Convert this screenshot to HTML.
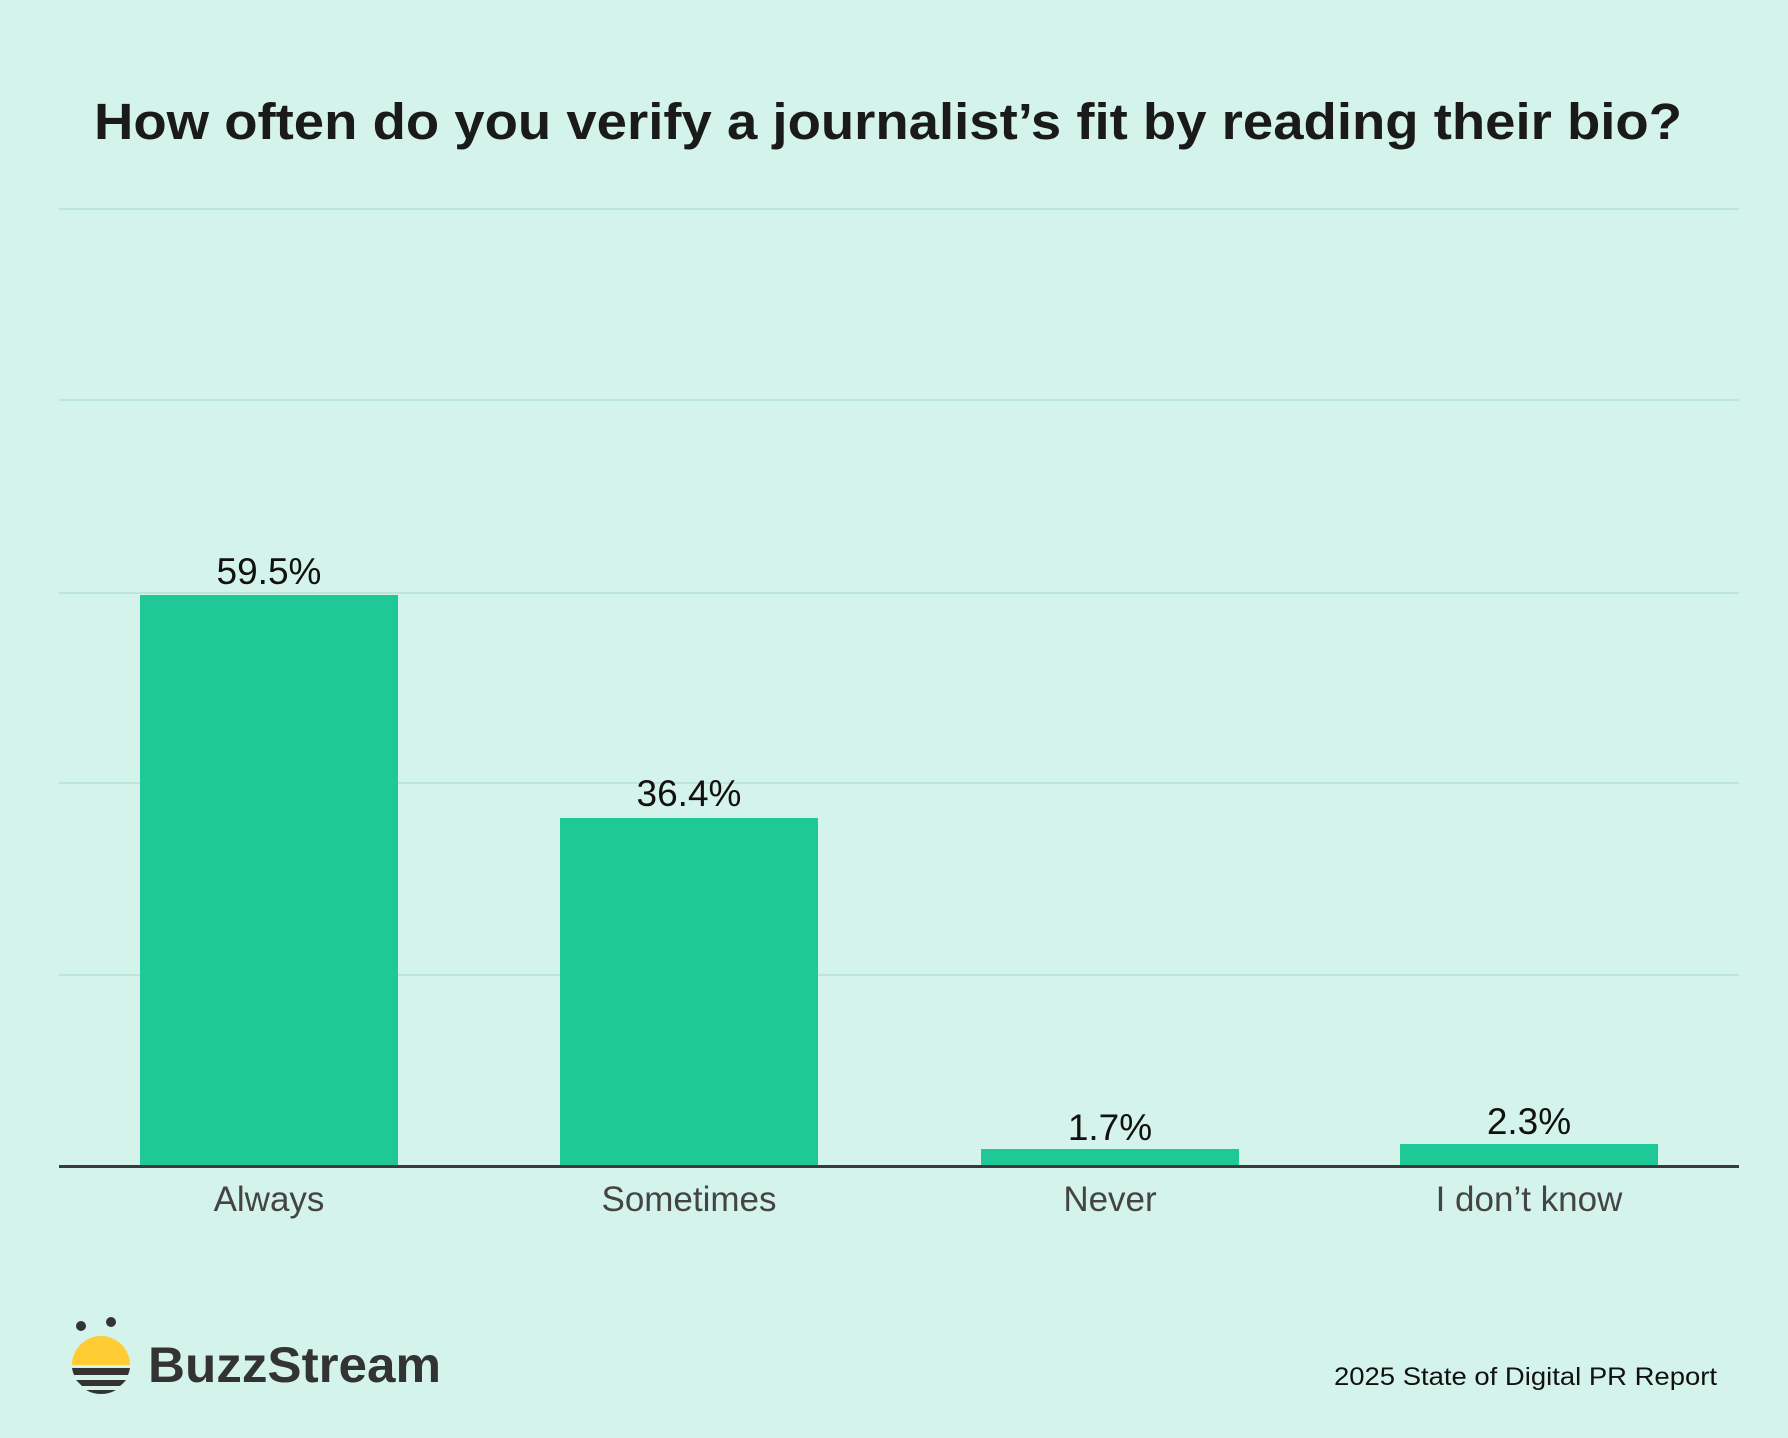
<!DOCTYPE html>
<html><head><meta charset="utf-8"><style>
html,body{margin:0;padding:0;background:#d4f4eb;}
svg{display:block}
</style></head><body>
<svg width="1788" height="1438" viewBox="0 0 1788 1438" xmlns="http://www.w3.org/2000/svg">
<rect width="1788" height="1438" fill="#d4f4eb"/>
<text x="94" y="139" textLength="1588" lengthAdjust="spacingAndGlyphs" font-family="Liberation Sans, sans-serif" font-weight="bold" font-size="51" fill="#1a1a1a">How often do you verify a journalist’s fit by reading their bio?</text>
<g stroke="#b5e2d4" stroke-width="1.5">
<line x1="59" x2="1739" y1="209" y2="209"/>
<line x1="59" x2="1739" y1="400" y2="400"/>
<line x1="59" x2="1739" y1="593" y2="593"/>
<line x1="59" x2="1739" y1="783" y2="783"/>
<line x1="59" x2="1739" y1="975" y2="975"/>
</g>
<g fill="#1fc997">
<rect x="140" y="595" width="258" height="571"/>
<rect x="560" y="818" width="258" height="348"/>
<rect x="981" y="1149" width="258" height="17"/>
<rect x="1400" y="1144" width="258" height="22"/>
</g>
<line x1="59" x2="1739" y1="1166.5" y2="1166.5" stroke="#3a3a3a" stroke-width="3"/>
<g font-family="Liberation Sans, sans-serif" font-size="37" fill="#111" text-anchor="middle">
<text x="269" y="584">59.5%</text>
<text x="689" y="806">36.4%</text>
<text x="1110" y="1140">1.7%</text>
<text x="1529" y="1134">2.3%</text>
</g>
<g font-family="Liberation Sans, sans-serif" font-size="35" fill="#444" text-anchor="middle">
<text x="269" y="1211">Always</text>
<text x="689" y="1211">Sometimes</text>
<text x="1110" y="1211">Never</text>
<text x="1529" y="1211">I don’t know</text>
</g>
<circle cx="81" cy="1326" r="5" fill="#333"/>
<circle cx="111" cy="1322" r="5" fill="#333"/>
<path d="M72 1365 A29 29 0 0 1 130 1365 Z" fill="#ffcc33"/>
<path d="M72 1368 H130 A29 29 0 0 1 128 1375 H74 A29 29 0 0 1 72 1368Z" fill="#333"/>
<path d="M76 1380 H126 A29 29 0 0 1 120 1386 H82 Z" fill="#333"/>
<path d="M86 1390 H116 A29 29 0 0 1 101 1394 A29 29 0 0 1 86 1390Z" fill="#333"/>
<text x="148" y="1382" textLength="293" lengthAdjust="spacingAndGlyphs" font-family="Liberation Sans, sans-serif" font-weight="bold" font-size="50" fill="#333">BuzzStream</text>
<text x="1334" y="1385" textLength="383" lengthAdjust="spacingAndGlyphs" font-family="Liberation Sans, sans-serif" font-size="25" fill="#111">2025 State of Digital PR Report</text>
</svg>
</body></html>
